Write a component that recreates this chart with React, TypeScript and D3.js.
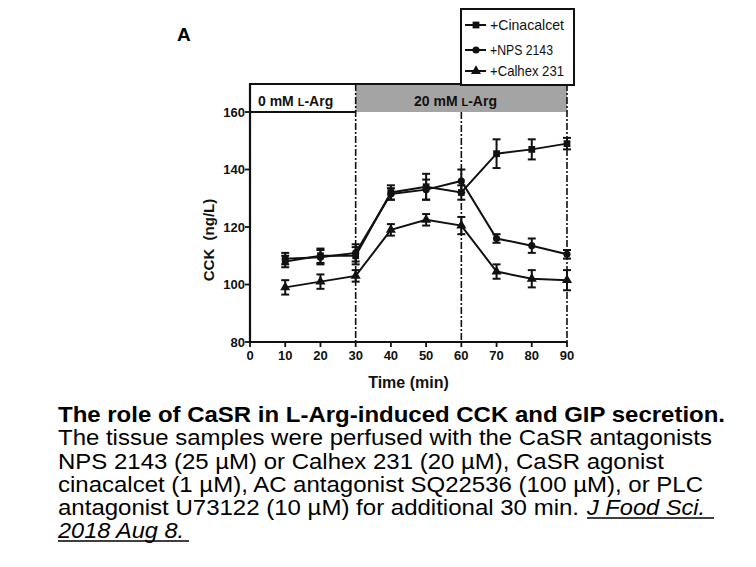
import React from 'react';
import * as d3 from 'd3';

// time points (min)
const times = [10, 20, 30, 40, 50, 60, 70, 80, 90];

// CCK (ng/L), mean and error
const cinacalcet = [108, 110, 110, 132, 134, 132, 145.5, 147, 149];
const cinacalcetErr = [2, 2.5, 3, 2.5, 4.5, 2.5, 5, 3.5, 2];
const nps2143 = [109, 109.5, 111, 131.5, 133, 136, 116, 113.5, 110.5];
const nps2143Err = [2, 2.5, 3, 2, 3.5, 4, 1.5, 2.5, 1.5];
const calhex231 = [99, 101, 103, 119, 122.5, 120.5, 104.5, 102, 101.5];
const calhex231Err = [2.5, 2.5, 2, 2, 2, 3, 2.5, 3, 3.5];

const xTicks = [0, 10, 20, 30, 40, 50, 60, 70, 80, 90];
const yTicks = [80, 100, 120, 140, 160];
const phaseBounds = [30, 60, 90];

const seriesList = [
  { name: '+Cinacalcet', values: cinacalcet, err: cinacalcetErr, symbol: d3.symbolSquare, size: 46 },
  { name: '+NPS 2143', values: nps2143, err: nps2143Err, symbol: d3.symbolCircle, size: 40 },
  { name: '+Calhex 231', values: calhex231, err: calhex231Err, symbol: d3.symbolTriangle, size: 44 },
];

const captionLines = [
  { text: 'The role of CaSR in L-Arg-induced CCK and GIP secretion.', bold: true, width: 667 },
  { text: 'The tissue samples were perfused with the CaSR antagonists', width: 654 },
  { text: 'NPS 2143 (25 µM) or Calhex 231 (20 µM), CaSR agonist', width: 606 },
  { text: 'cinacalcet (1 µM), AC antagonist SQ22536 (100 µM), or PLC', width: 645 },
];

const FONT = '"Liberation Sans", Arial, sans-serif';

const App: React.FC = () => {
  const width = 756;
  const height = 567;

  const x = d3.scaleLinear().domain([0, 90]).range([250, 567]);
  const y = d3.scaleLinear().domain([80, 160]).range([342, 112]);

  const headerTop = y(160) - 28;
  const headerBottom = y(160);

  const line = d3.line<number>()
    .x((_, i) => x(times[i]))
    .y(d => y(d));

  const capW = 4;

  return (
    <svg width={width} height={height} style={{ position: 'absolute', left: 0, top: 0, background: '#fff' }}
      fontFamily={FONT}>
      {/* panel letter */}
      <text x={177} y={41} fontSize={19} fontWeight="bold">A</text>

      {/* header band */}
      <rect x={x(30)} y={headerTop} width={x(90) - x(30)} height={headerBottom - headerTop} fill="#a4a4a4" />
      <line x1={x(0)} x2={x(90)} y1={headerTop} y2={headerTop} stroke="#111" strokeWidth={2} />
      <line x1={x(0)} x2={x(30)} y1={headerBottom} y2={headerBottom} stroke="#111" strokeWidth={2} />
      <text x={258} y={106} fontSize={14} fontWeight="bold" fill="#111">
        0 mM <tspan fontSize={11}>L</tspan>-Arg
      </text>
      <text x={414} y={106} fontSize={14} fontWeight="bold" fill="#111">
        20 mM <tspan fontSize={11}>L</tspan>-Arg
      </text>

      {/* dashed phase boundaries (the one at 60 starts under the header band) */}
      {phaseBounds.map(t => (
        <line key={t} x1={x(t)} x2={x(t)} y1={t === 60 ? headerBottom : headerTop} y2={y(80)}
          stroke="#111" strokeWidth={1.6} strokeDasharray="7,2,2,2" />
      ))}

      {/* axes */}
      <line x1={x(0)} x2={x(0)} y1={headerTop - 1} y2={y(80) + 1} stroke="#111" strokeWidth={2.2} />
      <line x1={x(0)} x2={x(90)} y1={y(80)} y2={y(80)} stroke="#111" strokeWidth={2.2} />
      {yTicks.map(t => (
        <g key={'y' + t}>
          <line x1={x(0) - 5} x2={x(0)} y1={y(t)} y2={y(t)} stroke="#111" strokeWidth={1.8} />
          <text x={x(0) - 5} y={y(t) + 4.5} fontSize={13} fontWeight="bold" textAnchor="end" fill="#111">{t}</text>
        </g>
      ))}
      {xTicks.map(t => (
        <g key={'x' + t}>
          <line x1={x(t)} x2={x(t)} y1={y(80)} y2={y(80) + 5} stroke="#111" strokeWidth={1.8} />
          <text x={x(t)} y={360} fontSize={13} fontWeight="bold" textAnchor="middle" fill="#111">{t}</text>
        </g>
      ))}
      <text x={(x(0) + x(90)) / 2} y={388} fontSize={16} fontWeight="bold" textAnchor="middle" fill="#111">Time (min)</text>
      <text transform={`translate(214,240) rotate(-90)`} fontSize={15} fontWeight="bold" textAnchor="middle" fill="#111"
        style={{ whiteSpace: 'pre' }}>
        {'CCK  (ng/L)'}
      </text>

      {/* series */}
      {seriesList.map(s => (
        <g key={s.name}>
          <path d={line(s.values) || ''} fill="none" stroke="#111" strokeWidth={2} />
          {s.values.map((v, i) => (
            <g key={i}>
              <line x1={x(times[i])} x2={x(times[i])} y1={y(v - s.err[i])} y2={y(v + s.err[i])} stroke="#111" strokeWidth={2} />
              <line x1={x(times[i]) - capW} x2={x(times[i]) + capW} y1={y(v - s.err[i])} y2={y(v - s.err[i])} stroke="#111" strokeWidth={2} />
              <line x1={x(times[i]) - capW} x2={x(times[i]) + capW} y1={y(v + s.err[i])} y2={y(v + s.err[i])} stroke="#111" strokeWidth={2} />
              <path d={d3.symbol().type(s.symbol).size(s.size)() || ''}
                transform={`translate(${x(times[i])},${y(v)})`} fill="#111" />
            </g>
          ))}
        </g>
      ))}

      {/* legend */}
      <rect x={461} y={9} width={113} height={76} fill="#fff" stroke="#111" strokeWidth={2} />
      {seriesList.map((s, i) => {
        const ly = [25, 50, 71][i];
        return (
          <g key={'lg' + s.name}>
            <line x1={465} x2={486} y1={ly} y2={ly} stroke="#111" strokeWidth={2} />
            <path d={d3.symbol().type(s.symbol).size(s.size)() || ''} transform={`translate(476,${ly})`} fill="#111" />
            <text x={490} y={ly + 5} fontSize={14.5} fill="#111" textLength={[74, 63, 74][i]} lengthAdjust="spacingAndGlyphs">
              {s.name}
            </text>
          </g>
        );
      })}

      {/* caption */}
      {captionLines.map((c, i) => (
        <text key={'c' + i} x={58} y={422 + i * 23.3} fontSize={22} fontWeight={c.bold ? 'bold' : 'normal'}
          fill="#000" textLength={c.width} lengthAdjust="spacingAndGlyphs">
          {c.text}
        </text>
      ))}
      <text x={58} y={515} fontSize={22} fill="#000" textLength={521} lengthAdjust="spacingAndGlyphs">
        antagonist U73122 (10 µM) for additional 30 min.
      </text>
      <text x={587} y={515} fontSize={22} fontStyle="italic" fill="#000" textLength={118} lengthAdjust="spacingAndGlyphs">
        J Food Sci.
      </text>
      <line x1={587} x2={714} y1={518} y2={518} stroke="#000" strokeWidth={1.3} />
      <text x={58} y={538} fontSize={22} fontStyle="italic" fill="#000" textLength={126} lengthAdjust="spacingAndGlyphs">
        2018 Aug 8.
      </text>
      <line x1={58} x2={189} y1={541} y2={541} stroke="#000" strokeWidth={1.3} />
    </svg>
  );
};

export default App;
